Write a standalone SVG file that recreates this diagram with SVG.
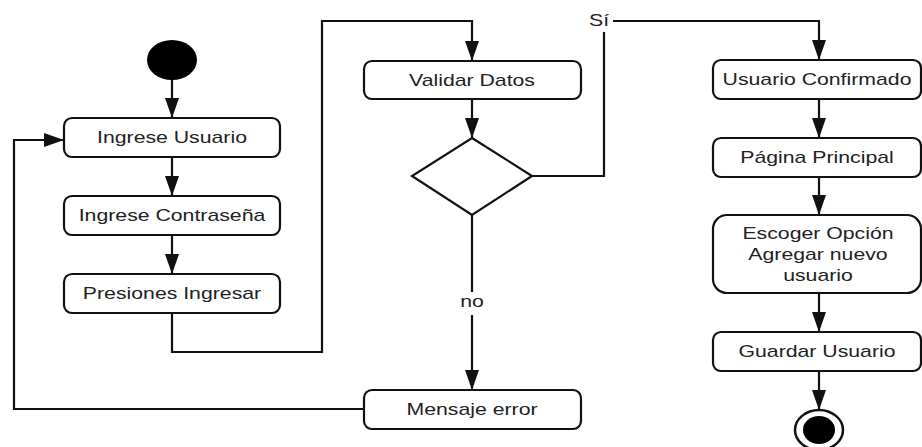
<svg xmlns="http://www.w3.org/2000/svg" width="922" height="447" viewBox="0 0 922 447">
<style>
.box{fill:#fff;stroke:#111;stroke-width:2.2}
.lbl{font-family:"Liberation Sans",Arial,sans-serif;font-size:17px;fill:#222;text-anchor:middle}
.edge{fill:none;stroke:#111;stroke-width:2.2}
</style>
<defs>
<marker id="arr" markerUnits="userSpaceOnUse" markerWidth="20" markerHeight="14" refX="20" refY="7" orient="auto">
<path d="M0,0 L20,7 L0,14 z" fill="#111"/>
</marker>
</defs>
<rect width="922" height="447" fill="#fff"/>
<g id="connectors">
<path class="edge" d="M172,80 V118" marker-end="url(#arr)"/>
<path class="edge" d="M172,157 V196" marker-end="url(#arr)"/>
<path class="edge" d="M172,235 V274" marker-end="url(#arr)"/>
<path class="edge" d="M172,313 V352 H322 V21 H472 V61" marker-end="url(#arr)"/>
<path class="edge" d="M472,99 V138" marker-end="url(#arr)"/>
<path class="edge" d="M472,215 V292 M472,315 V390" marker-end="url(#arr)"/>
<text class="lbl" transform="translate(472 307) scale(1.25 1)">no</text>
<path class="edge" d="M532,176 H604 V32 M613,21 H819 V60" marker-end="url(#arr)"/>
<text class="lbl" transform="translate(599 26) scale(1.25 1)">Sí</text>
<path class="edge" d="M364,409 H14 V140 H64" marker-end="url(#arr)"/>
<path class="edge" d="M819,99 V138" marker-end="url(#arr)"/>
<path class="edge" d="M819,177 V215" marker-end="url(#arr)"/>
<path class="edge" d="M819,293 V332" marker-end="url(#arr)"/>
<path class="edge" d="M819,371 V410" marker-end="url(#arr)"/>
</g>
<g id="start"><ellipse cx="172" cy="60" rx="25" ry="20" fill="#000"/></g>
<g id="ingrese-usuario"><rect class="box" x="64" y="118" width="216" height="39" rx="8"/><text class="lbl" transform="translate(172 143) scale(1.25 1)">Ingrese Usuario</text></g>
<g id="ingrese-contrasena"><rect class="box" x="64" y="196" width="216" height="39" rx="8"/><text class="lbl" transform="translate(172 221) scale(1.25 1)">Ingrese Contraseña</text></g>
<g id="presiones-ingresar"><rect class="box" x="64" y="274" width="216" height="39" rx="8"/><text class="lbl" transform="translate(172 299) scale(1.25 1)">Presiones Ingresar</text></g>
<g id="validar-datos"><rect class="box" x="364" y="61" width="217" height="38" rx="8"/><text class="lbl" transform="translate(472 86) scale(1.25 1)">Validar Datos</text></g>
<g id="decision"><polygon class="box" points="472,138 532,176 472,215 412,176"/></g>
<g id="mensaje-error"><rect class="box" x="364" y="390" width="217" height="39" rx="8"/><text class="lbl" transform="translate(472 415) scale(1.25 1)">Mensaje error</text></g>
<g id="usuario-confirmado"><rect class="box" x="713" y="60" width="208" height="39" rx="8"/><text class="lbl" transform="translate(817 85) scale(1.25 1)">Usuario Confirmado</text></g>
<g id="pagina-principal"><rect class="box" x="713" y="138" width="208" height="39" rx="8"/><text class="lbl" transform="translate(817 163) scale(1.25 1)">Página Principal</text></g>
<g id="escoger-opcion"><rect class="box" x="713" y="215" width="208" height="78" rx="14"/><text class="lbl" transform="translate(818 239) scale(1.25 1)">Escoger Opción</text><text class="lbl" transform="translate(818 260) scale(1.25 1)">Agregar nuevo</text><text class="lbl" transform="translate(818 281) scale(1.25 1)">usuario</text></g>
<g id="guardar-usuario"><rect class="box" x="713" y="332" width="208" height="39" rx="8"/><text class="lbl" transform="translate(817 357) scale(1.25 1)">Guardar Usuario</text></g>
<g id="end"><ellipse cx="819" cy="430" rx="24" ry="20" fill="#fff" stroke="#111" stroke-width="2.5"/><ellipse cx="819" cy="430" rx="16" ry="14" fill="#000"/></g>
</svg>
